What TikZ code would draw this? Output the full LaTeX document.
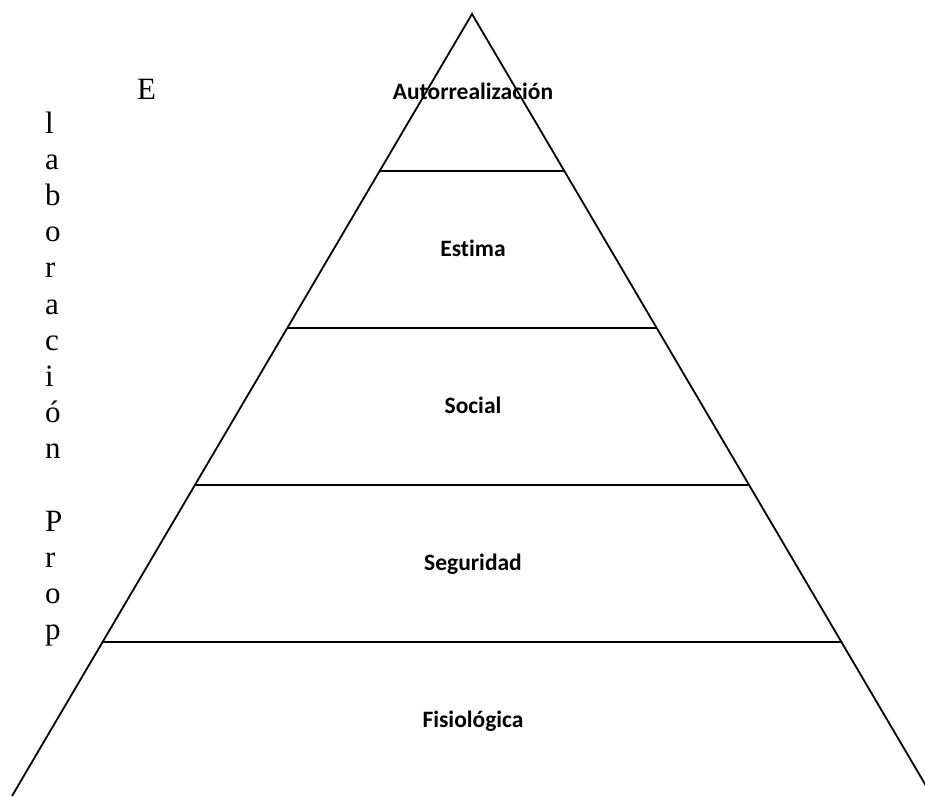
\documentclass[tikz,border=0pt]{standalone}
\usepackage{fontspec}
\setmainfont{Liberation Serif}
\newfontfamily\labelfont[Ligatures=NoCommon]{Carlito}
\usetikzlibrary{calc}
\tikzset{
	side/.style={line width=1.8pt,line join=miter},
	level/.style={line width=1.8pt},
	need/.style={font=\labelfont\bfseries\fontsize{23.5}{28}\selectfont,anchor=base,inner sep=0pt},
	vletter/.style={font=\fontsize{31}{36}\selectfont,anchor=base west,inner sep=0pt},
	}

\begin{document}
\begin{tikzpicture}[x=1pt,y=-1pt]
 \useasboundingbox (0,0) rectangle (925,796);
 \coordinate (top) at (472,14);
 \coordinate (bl) at (12,796);
 \coordinate (br) at (932,796);
 \draw[side] (bl) -- (top) -- (br);
 % levels
 \foreach \y/\n in {171/1,328/2,485/3,642/4} {
  \coordinate (l\n) at ($(top)!{(\y-14)/782}!(bl)$);
  \coordinate (r\n) at ($(top)!{(\y-14)/782}!(br)$);
  \draw[level] (l\n) -- (r\n);
  }

\node (auto) at (473,99) [need] {Autorrealización};
\node (est) at (473,256) [need] {Estima};
\node (soc) at (473,413) [need] {Social};
\node (seg) at (473,570) [need] {Seguridad};
\node (fis) at (473,727) [need] {Fisiológica};

\node (e) at (137,99) [vletter] {E};
 \foreach \c/\i in {l/0,a/1,b/2,o/3,r/4,a/5,c/6,i/7,ó/8,n/9,P/11,r/12,o/13,p/14}
 \node (v\i) at (45,{133+36.2*\i}) [vletter] {\c};
\end{tikzpicture}
\end{document}
